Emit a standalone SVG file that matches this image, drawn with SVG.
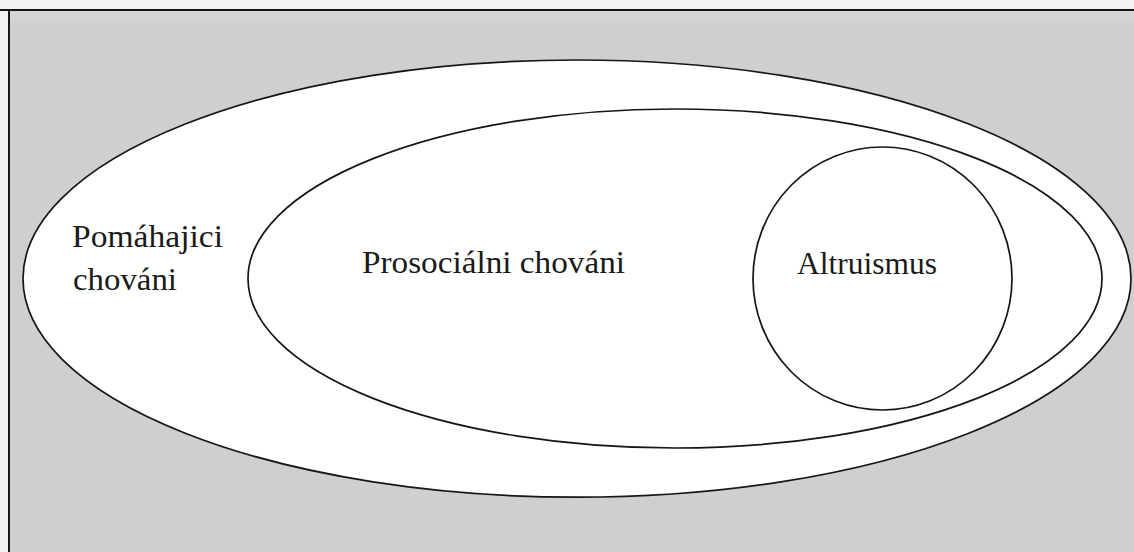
<svg xmlns="http://www.w3.org/2000/svg" width="1134" height="552" viewBox="0 0 1134 552">
  <style>
    .shape { fill: #ffffff; stroke: #161616; stroke-width: 1.7; }
    .lbl { font-family: "Liberation Serif", "Times New Roman", serif; font-size: 32px; fill: #1a1a1a; }
  </style>
  <rect x="0" y="0" width="1134" height="552" fill="#f2f2f2"/>
  <rect x="9" y="10" width="1125" height="542" fill="#cfcfcf"/>
  <rect x="10" y="11" width="1124" height="10" fill="#d5d5d5"/>
  <line x1="0" y1="10" x2="1134" y2="10" stroke="#161616" stroke-width="2"/>
  <line x1="9" y1="10" x2="9" y2="552" stroke="#161616" stroke-width="2"/>

  <g id="pomahajici">
    <ellipse class="shape" cx="577" cy="278.6" rx="554" ry="218.6"/>
    <text class="lbl" x="72" y="247" textLength="151" lengthAdjust="spacingAndGlyphs">Pomáhajici</text>
    <text class="lbl" x="73" y="290" textLength="104" lengthAdjust="spacingAndGlyphs">chováni</text>
  </g>
  <g id="prosocialni">
    <ellipse class="shape" cx="675" cy="278.5" rx="427" ry="169.5"/>
    <text class="lbl" x="362" y="273" textLength="263" lengthAdjust="spacingAndGlyphs">Prosociálni chováni</text>
  </g>
  <g id="altruismus">
    <ellipse class="shape" cx="882.5" cy="278.5" rx="129.5" ry="131.5"/>
    <text class="lbl" x="797" y="274" textLength="140" lengthAdjust="spacingAndGlyphs">Altruismus</text>
  </g>
  <g id="connectors"/>
</svg>
